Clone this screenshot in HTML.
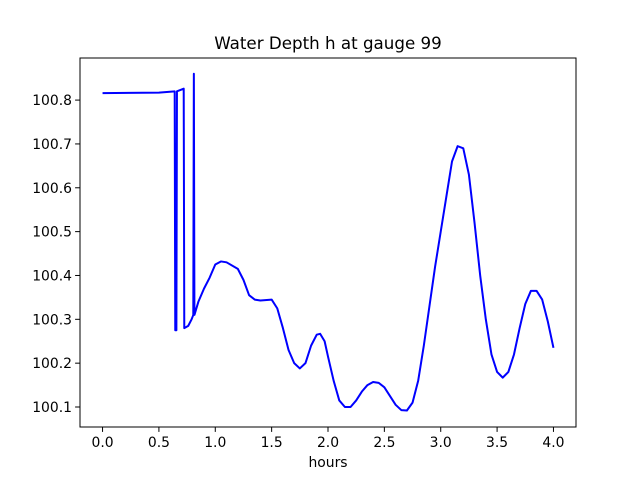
<!DOCTYPE html>
<html><head><meta charset="utf-8"><style>
body{margin:0;background:#fff}
svg text{font-family:"DejaVu Sans","Liberation Sans",sans-serif;fill:#000}
</style></head><body>
<svg id="chart" width="640" height="480" xmlns="http://www.w3.org/2000/svg">
<rect width="640" height="480" fill="#fff"/>
<text x="328" y="49" font-size="16.7" text-anchor="middle">Water Depth h at gauge 99</text>
<g id="plot"></g>
<rect x="80" y="58" width="496" height="369" fill="none" stroke="#000" stroke-width="1"/>
<g id="xt"></g><g id="yt"></g>
<text x="328" y="467" font-size="13.9" text-anchor="middle">hours</text>
</svg>
<script>
const xTicks=[0,0.5,1,1.5,2,2.5,3,3.5,4];
const xTickLabels=["0.0","0.5","1.0","1.5","2.0","2.5","3.0","3.5","4.0"];
const yTicks=[100.1,100.2,100.3,100.4,100.5,100.6,100.7,100.8];
const yTickLabels=["100.1","100.2","100.3","100.4","100.5","100.6","100.7","100.8"];
const hours=[0,0.5,0.64,0.645,0.655,0.66,0.72,0.725,0.76,0.79,0.805,0.81,0.815,0.85,0.9,0.95,1.0,1.05,1.1,1.2,1.25,1.3,1.35,1.4,1.5,1.55,1.6,1.65,1.7,1.75,1.8,1.85,1.9,1.93,1.97,2.0,2.05,2.1,2.15,2.2,2.25,2.3,2.35,2.4,2.45,2.5,2.55,2.6,2.65,2.7,2.75,2.8,2.85,2.9,2.95,3.0,3.05,3.1,3.15,3.2,3.25,3.3,3.35,3.4,3.45,3.5,3.55,3.6,3.65,3.7,3.75,3.8,3.85,3.9,3.95,4.0];
const depth=[100.816,100.817,100.82,100.275,100.275,100.82,100.826,100.28,100.285,100.3,100.31,100.86,100.31,100.34,100.37,100.395,100.425,100.432,100.43,100.415,100.39,100.355,100.345,100.343,100.345,100.325,100.28,100.23,100.2,100.188,100.2,100.24,100.265,100.267,100.25,100.215,100.16,100.115,100.1,100.1,100.115,100.135,100.15,100.157,100.155,100.145,100.125,100.105,100.093,100.092,100.11,100.16,100.24,100.33,100.42,100.5,100.58,100.66,100.695,100.69,100.63,100.52,100.4,100.3,100.22,100.18,100.167,100.18,100.22,100.28,100.335,100.365,100.365,100.345,100.295,100.235];
const L=80,R=576,T=58,B=427,x0=-0.2,x1=4.2,y0=100.0544,y1=100.896;
const X=v=>L+(v-x0)/(x1-x0)*(R-L), Y=v=>B-(v-y0)/(y1-y0)*(B-T);
const NS="http://www.w3.org/2000/svg";
function mk(t,a,p){const e=document.createElementNS(NS,t);for(const k in a)e.setAttribute(k,a[k]);p.appendChild(e);return e;}
const plot=document.getElementById('plot');
const line=mk('polyline',{points:hours.map((h,i)=>X(h)+','+Y(depth[i])).join(' '),fill:'none',stroke:'#0000ff','stroke-width':2,'stroke-linejoin':'round'},plot);


const xt=document.getElementById('xt');
xTicks.forEach((v,i)=>{
 const g=mk('g',{},xt);
 
 
 mk('line',{x1:X(v),x2:X(v),y1:B,y2:B+4.9,stroke:'#000'},g);
 const t=mk('text',{x:X(v),y:B+20,'font-size':13.9,'text-anchor':'middle'},g);t.textContent=xTickLabels[i];
});
const yt=document.getElementById('yt');
yTicks.forEach((v,i)=>{
 const g=mk('g',{},yt);
 
 
 mk('line',{x1:L-4.9,x2:L,y1:Y(v),y2:Y(v),stroke:'#000'},g);
 const t=mk('text',{x:L-8,y:Y(v)+5,'font-size':13.9,'text-anchor':'end'},g);t.textContent=yTickLabels[i];
});
</script>
</body></html>
